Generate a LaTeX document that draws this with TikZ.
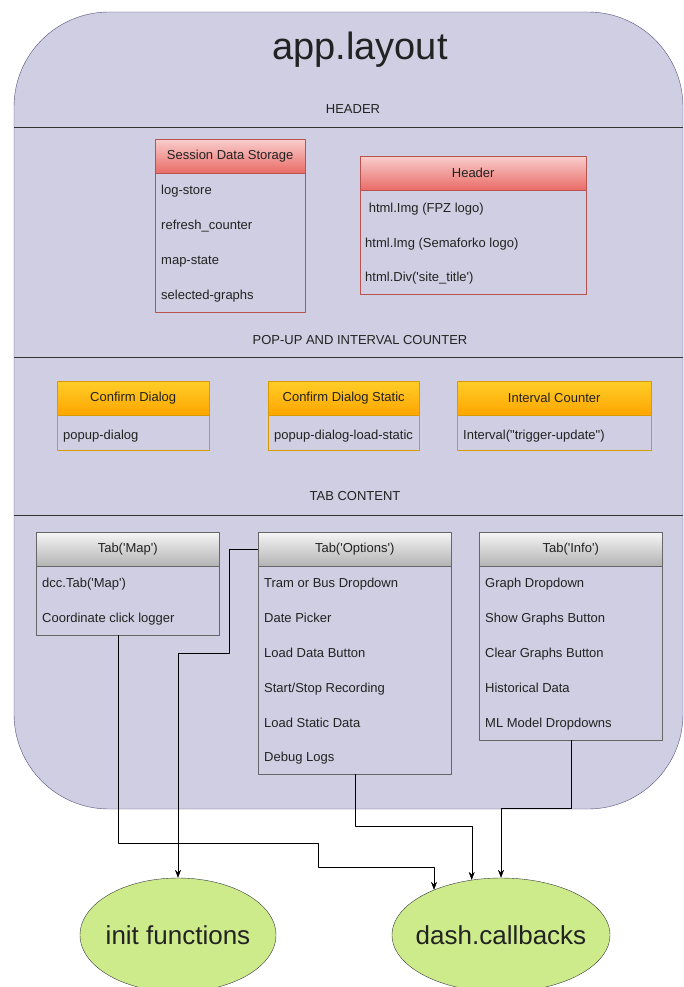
\documentclass[tikz,border=0pt]{standalone}
\usepackage{fontspec}
\setmainfont{Liberation Sans}
\usetikzlibrary{shapes.geometric,arrows.meta}
\definecolor{lav}{HTML}{D0CEE2}
\definecolor{layln}{HTML}{56517E}
\definecolor{redln}{HTML}{B85450}
\definecolor{redtop}{HTML}{F8CECC}
\definecolor{redbot}{HTML}{EA6B66}
\definecolor{orln}{HTML}{D79B00}
\definecolor{ortop}{HTML}{FFCD28}
\definecolor{orbot}{HTML}{FFA500}
\definecolor{grln}{HTML}{666666}
\definecolor{grtop}{HTML}{F5F5F5}
\definecolor{grbot}{HTML}{B3B3B3}
\definecolor{ovfill}{HTML}{CDEB8B}
\definecolor{ovln}{HTML}{36393D}
\definecolor{txt}{HTML}{222222}
\newcommand{\tq}{\textquotesingle}
\begin{document}
\begin{tikzpicture}[x=1pt,y=-1pt, line join=round, font=\fontsize{13}{15}\selectfont, text=txt, >={Stealth[length=8pt,width=6pt]},
    hd/.style={draw, minimum height=34, inner sep=0pt, anchor=north west},
    redhd/.style={hd, draw=redln, top color=redtop, bottom color=redbot},
    orhd/.style={hd, draw=orln, top color=ortop, bottom color=orbot},
    grhd/.style={hd, draw=grln, top color=grtop, bottom color=grbot},
    bd/.style={draw, inner sep=0pt, anchor=north west},
    itm/.style={anchor=base west, inner sep=0pt},
    oval/.style={ellipse, draw=ovln, fill=ovfill, minimum height=114, inner sep=0pt},
    ovtxt/.style={font=\fontsize{26}{30}\selectfont}]
    \useasboundingbox (0,0) rectangle (684,987);
    \draw[layln, fill=lav, rounded corners=95] (14,12) rectangle (683,809);
    \draw[black!80] (14,127) -- (683,127) (14,357) -- (683,357) (14,515) -- (683,515);
    \node[font=\fontsize{38}{42}\selectfont] (ttl) at (360,50) {app.layout};
    \node (lblhdr) at (353,109) {HEADER};
    \node (lblpop) at (360,340) {POP-UP AND INTERVAL COUNTER};
    \node (lbltab) at (355,496) {TAB CONTENT};
    % header section
    \node[bd, draw=redln, minimum width=150, minimum height=139] (sdsb) at (155,173) {};
    \node[redhd, minimum width=150] (sdsh) at (155,139) {Session Data Storage};
    \foreach \t [count=\i] in {log-store,refresh\_counter,map-state,selected-graphs}
        \node[itm] (sds\i) at (161,159.5+35*\i) {\t};
    \node[bd, draw=redln, minimum width=226, minimum height=104] (hdrb) at (360,190) {};
    \node[redhd, minimum width=226] (hdrh) at (360,156) {Header};
    \foreach \t [count=\i] in {{\ html.Img (FPZ logo)},{html.Img (Semaforko logo)},{html.Div(\tq site\_title\tq)}}
        \node[itm] (hdr\i) at (365,178+34.5*\i) {\t};
    % pop-up section
    \node[bd, draw=orln, minimum width=152, minimum height=35] (cdb) at (57,415) {};
    \node[orhd, minimum width=152] (cdh) at (57,381) {Confirm Dialog};
    \node[itm] (cd1) at (63,439) {popup-dialog};
    \node[bd, draw=orln, minimum width=151, minimum height=35] (cdsb) at (268,415) {};
    \node[orhd, minimum width=151] (cdsh) at (268,381) {Confirm Dialog Static};
    \node[itm] (cds1) at (274,439) {popup-dialog-load-static};
    \node[bd, draw=orln, minimum width=194, minimum height=35] (icb) at (457,415) {};
    \node[orhd, minimum width=194] (ich) at (457,381) {Interval Counter};
    \node[itm] (ic1) at (463,439) {Interval(\textquotedbl{}trigger-update\textquotedbl)};
    % tabs
    \node[bd, draw=grln, minimum width=183, minimum height=69] (mapb) at (36,566) {};
    \node[grhd, minimum width=183] (maph) at (36,532) {Tab(\tq Map\tq)};
    \foreach \t [count=\i] in {{dcc.Tab(\tq Map\tq)},{Coordinate click logger}}
        \node[itm] (map\i) at (42,553+34.8*\i) {\t};
    \node[bd, draw=grln, minimum width=193, minimum height=208] (optb) at (258,566) {};
    \node[grhd, minimum width=193] (opth) at (258,532) {Tab(\tq Options\tq)};
    \foreach \t [count=\i] in {Tram or Bus Dropdown,Date Picker,Load Data Button,Start/Stop Recording,Load Static Data,Debug Logs}
        \node[itm] (opt\i) at (264,553+34.8*\i) {\t};
    \node[bd, draw=grln, minimum width=183, minimum height=174] (infob) at (479,566) {};
    \node[grhd, minimum width=183] (infoh) at (479,532) {Tab(\tq Info\tq)};
    \foreach \t [count=\i] in {Graph Dropdown,Show Graphs Button,Clear Graphs Button,Historical Data,ML Model Dropdowns}
        \node[itm] (info\i) at (485,553+34.8*\i) {\t};
    % targets
    \node[oval, minimum width=196, label={[ovtxt]center:init functions}] (init) at (178,935) {};
    \node[oval, minimum width=218, label={[ovtxt]center:dash.callbacks}] (dash) at (501,935) {};
    \draw[->] ([xshift=-9.5pt]mapb.south) |- (318,843) |- (dash.146 |- 0,867) -- (dash.146);
    \draw[->] (opth.west) -| (229,653) -| (init.north);
    \draw[->] (optb.south) |- (dash.118 |- 0,826) -- (dash.118);
    \draw[->] (infob.south) |- (dash.north |- 0,808) -- (dash.north);
\end{tikzpicture}
\end{document}
